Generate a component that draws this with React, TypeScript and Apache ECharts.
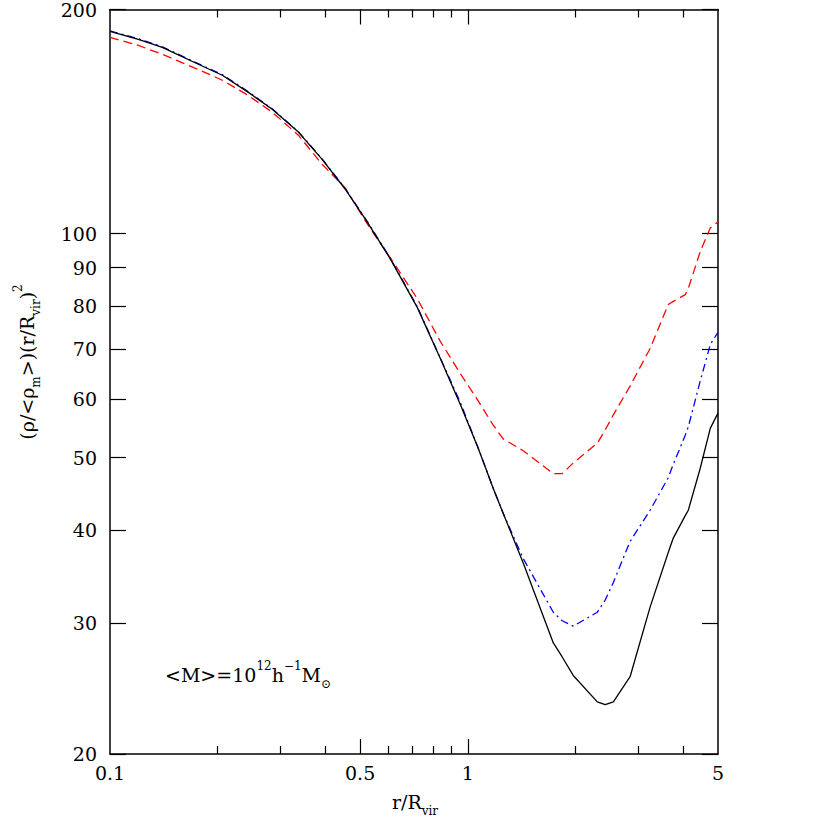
import React, { useEffect, useRef } from "react";
import * as echarts from "echarts";

// r / R_vir sample positions
const rValues = [
  0.1, 0.12, 0.14, 0.184, 0.206, 0.243, 0.284, 0.336, 0.391, 0.454, 0.523,
  0.607, 0.722, 0.837, 0.952, 1.069, 1.177, 1.255, 1.428, 1.733, 1.835, 1.97,
  2.3, 2.42, 2.55, 2.84, 3.23, 3.63, 3.75, 4.05, 4.13, 4.46, 4.76, 5.0,
];
// solid black curve
const blackValues = [
  186.9, 182.4, 177.9, 167.3, 163.2, 154.9, 146.9, 136.9, 125.9, 114.8, 103.7,
  92.5, 79.6, 68.0, 59.0, 51.5, 45.5, 42.1, 36.1, 28.2, 27.0, 25.5,
  23.5, 23.3, 23.5, 25.4, 31.5, 37.3, 39.0, 41.8, 42.5, 48.4, 54.8, 57.4,
];
// blue dash-dot curve
const blueValues = [
  187.2, 182.7, 178.2, 167.6, 163.5, 155.2, 147.1, 137.1, 126.1, 115.0, 103.9,
  92.7, 79.8, 68.1, 59.4, 51.5, 45.5, 42.1, 36.6, 31.0, 30.2, 29.7,
  31.0, 32.2, 34.0, 38.6, 42.5, 47.0, 49.0, 53.6, 55.0, 63.4, 71.0, 73.7,
];
// red dashed curve
const redValues = [
  183.5, 179.0, 174.1, 164.7, 160.7, 153.4, 145.6, 135.6, 124.0, 115.2, 103.1,
  92.8, 81.8, 71.7, 64.9, 59.6, 55.3, 53.0, 51.1, 47.6, 47.6, 49.2,
  52.3, 54.5, 57.1, 62.4, 70.1, 80.3, 81.1, 82.8, 84.4, 94.6, 101.8, 103.7,
];

const xLabelValues = [0.1, 0.5, 1, 5];
const xMajorTicks = [0.5, 1];
const xMinorTicks = [0.2, 0.3, 0.4, 0.6, 0.7, 0.8, 0.9, 2, 3, 4];
const yTickValues = [20, 30, 40, 50, 60, 70, 80, 90, 100, 200];

const FONT = "DejaVu Serif";

export default function App() {
  const ref = useRef<HTMLDivElement>(null);

  useEffect(() => {
    const chart = echarts.init(ref.current!, null, { renderer: "svg" });

    const labelStyle = {
      color: "#000",
      fontFamily: FONT,
      fontSize: 19,
    };

    const xAxis = (
      position: string,
      ticks: number[],
      len: number,
      showLabel: boolean,
      showLine: boolean
    ) => ({
      type: "log",
      logBase: 10,
      min: 0.1,
      max: 5,
      position,
      axisLine: { show: showLine, lineStyle: { color: "#000", width: 1.5 } },
      axisTick: {
        show: true,
        inside: true,
        length: len,
        customValues: ticks,
        lineStyle: { color: "#000", width: 1.2 },
      },
      axisLabel: showLabel
        ? {
            show: true,
            customValues: xLabelValues,
            formatter: (v: number) => String(v),
            margin: 9,
            ...labelStyle,
          }
        : { show: false },
      splitLine: { show: false },
      minorTick: { show: false },
    });

    const yAxis = (position: string, showLabel: boolean) => ({
      type: "log",
      logBase: 10,
      min: 20,
      max: 200,
      position,
      axisLine: { show: true, lineStyle: { color: "#000", width: 1.5 } },
      axisTick: {
        show: true,
        inside: true,
        length: 16,
        customValues: yTickValues,
        lineStyle: { color: "#000", width: 1.2 },
      },
      axisLabel: showLabel
        ? {
            show: true,
            customValues: yTickValues,
            formatter: (v: number) => String(v),
            margin: 13,
            ...labelStyle,
          }
        : { show: false },
      splitLine: { show: false },
      minorTick: { show: false },
    });

    const pairs = (ys: number[]) => rValues.map((x, i) => [x, ys[i]]);

    const rich = {
      t: { fontFamily: FONT, fontSize: 19, color: "#000", lineHeight: 30 },
      s: {
        fontFamily: FONT,
        fontSize: 12,
        color: "#000",
        lineHeight: 12,
        verticalAlign: "bottom",
      },
      p: {
        fontFamily: FONT,
        fontSize: 12,
        color: "#000",
        lineHeight: 12,
        verticalAlign: "top",
      },
    };

    chart.setOption({
      animation: false,
      backgroundColor: "#fff",
      grid: { left: 110, right: 112, top: 7, bottom: 76, containLabel: false },
      xAxis: [
        xAxis("bottom", xMajorTicks, 15, true, true),
        xAxis("bottom", xMinorTicks, 8, false, false),
        xAxis("top", xMajorTicks, 15, false, true),
        xAxis("top", xMinorTicks, 8, false, false),
      ],
      yAxis: [yAxis("left", true), yAxis("right", false)],
      series: [
        {
          type: "line",
          data: pairs(redValues),
          xAxisIndex: 0,
          yAxisIndex: 0,
          symbol: "none",
          lineStyle: { color: "#ff0000", width: 1.3, type: [9, 5] },
        },
        {
          type: "line",
          data: pairs(blueValues),
          xAxisIndex: 0,
          yAxisIndex: 0,
          symbol: "none",
          lineStyle: { color: "#0000ff", width: 1.3, type: [8, 4, 2, 4] },
        },
        {
          type: "line",
          data: pairs(blackValues),
          xAxisIndex: 0,
          yAxisIndex: 0,
          symbol: "none",
          lineStyle: { color: "#000000", width: 1.3 },
        },
      ],
      graphic: [
        {
          type: "text",
          x: 415,
          y: 802,
          style: {
            text: "{t|r/R}{s|vir}",
            rich,
            align: "center",
            verticalAlign: "middle",
          },
        },
        {
          type: "text",
          x: 27,
          y: 362,
          rotation: Math.PI / 2,
          style: {
            text: "{t|(ρ/<ρ}{s|m}{t|>)(r/R}{s|vir}{t|)}{p|2}",
            rich,
            align: "center",
            verticalAlign: "middle",
          },
        },
        {
          type: "text",
          x: 165,
          y: 675,
          style: {
            text: "{t|<M>=10}{p|12}{t|h}{p|−1}{t|M}{s|⊙}",
            rich,
            align: "left",
            verticalAlign: "middle",
          },
        },
      ],
    });

    return () => chart.dispose();
  }, []);

  return (
    <div
      ref={ref}
      style={{ position: "fixed", left: 0, top: 0, width: 830, height: 830 }}
    />
  );
}
